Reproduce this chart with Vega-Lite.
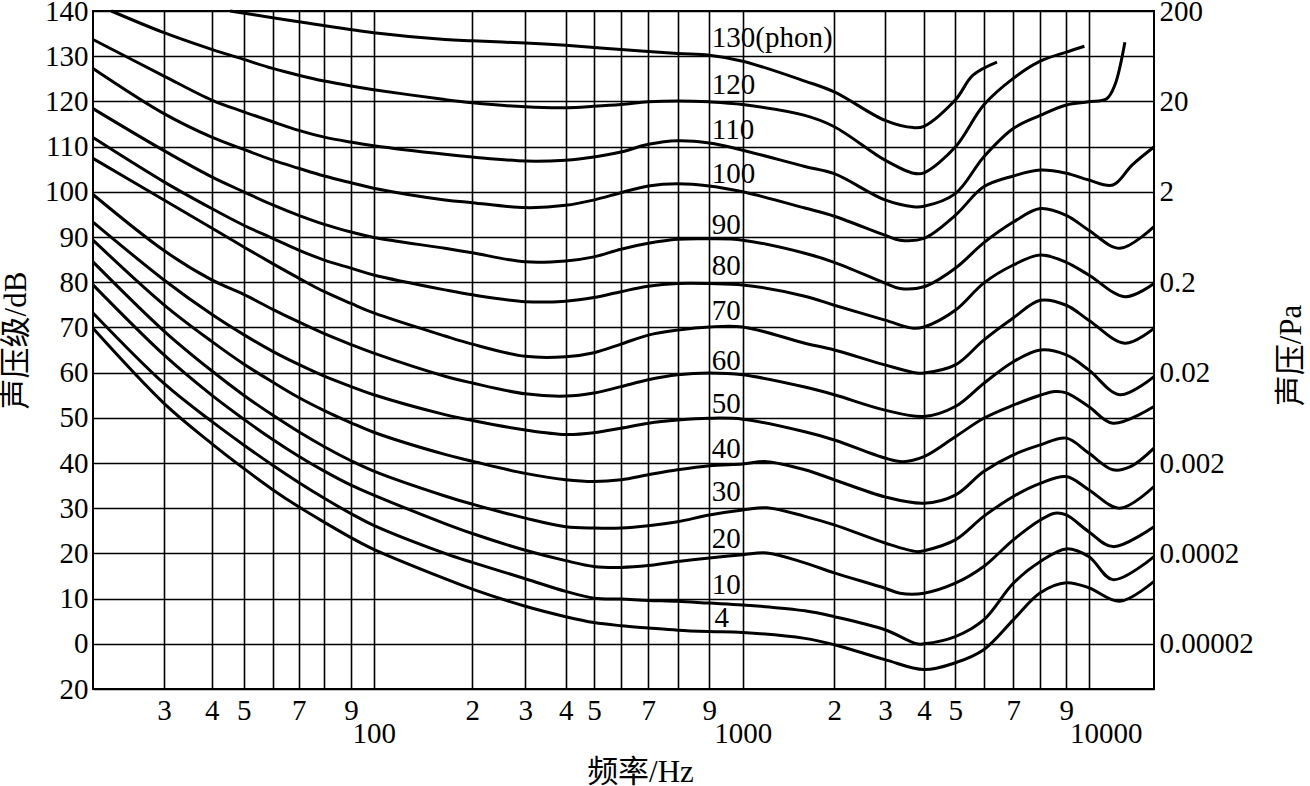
{
  "$schema": "https://vega.github.io/schema/vega-lite/v6.json",
  "width": 1061,
  "height": 678,
  "autosize": "none",
  "padding": {"left": 93, "top": 11, "right": 156, "bottom": 97},
  "background": "white",
  "config": {
    "view": {"stroke": "#000", "strokeWidth": 2},
    "axis": {
      "labelFont": "Liberation Serif",
      "labelFontSize": 29,
      "labelColor": "#000",
      "titleFont": "'Liberation Serif', 'Noto Sans CJK SC'",
      "titleFontSize": 31,
      "titleFontWeight": "normal",
      "titleColor": "#000",
      "gridColor": "#000",
      "gridOpacity": 1,
      "gridWidth": 1.6,
      "domain": false,
      "ticks": false,
      "tickSize": 0
    }
  },
  "datasets": {
    "curves": [
      {"p":130,"f":45.5,"db":140},{"p":130,"f":60,"db":138.5},{"p":130,"f":70,"db":137.6},{"p":130,"f":100,"db":135.2},{"p":130,"f":165,"db":133.7},{"p":130,"f":200,"db":133.4},{"p":130,"f":300,"db":132.9},{"p":130,"f":400,"db":132.4},{"p":130,"f":600,"db":131.5},{"p":130,"f":800,"db":130.6},{"p":130,"f":900,"db":130.2},{"p":130,"f":1000,"db":128.9},{"p":130,"f":1600,"db":124.5},{"p":130,"f":2000,"db":122.1},{"p":130,"f":3000,"db":115.8},{"p":130,"f":3700,"db":114.2},{"p":130,"f":4000,"db":114.5},{"p":130,"f":5000,"db":120.3},{"p":130,"f":5600,"db":125.8},{"p":130,"f":6430,"db":128.7},
      {"p":120,"f":22.2,"db":140},{"p":120,"f":30,"db":135.2},{"p":120,"f":40,"db":131.5},{"p":120,"f":50,"db":129.3},{"p":120,"f":60,"db":127.3},{"p":120,"f":70,"db":125.8},{"p":120,"f":80,"db":124.5},{"p":120,"f":90,"db":123.4},{"p":120,"f":100,"db":122.6},{"p":120,"f":165,"db":120.4},{"p":120,"f":200,"db":119.7},{"p":120,"f":300,"db":118.8},{"p":120,"f":400,"db":118.6},{"p":120,"f":500,"db":118.9},{"p":120,"f":600,"db":119.3},{"p":120,"f":700,"db":119.9},{"p":120,"f":800,"db":120.1},{"p":120,"f":900,"db":119.9},{"p":120,"f":1000,"db":119.3},{"p":120,"f":1600,"db":116.9},{"p":120,"f":2000,"db":114.4},{"p":120,"f":3000,"db":107.0},{"p":120,"f":3700,"db":104.1},{"p":120,"f":4000,"db":104.2},{"p":120,"f":5000,"db":109.9},{"p":120,"f":6000,"db":119.2},{"p":120,"f":7000,"db":125.1},{"p":120,"f":8000,"db":128.9},{"p":120,"f":9000,"db":130.9},{"p":120,"f":9800,"db":132.2},
      {"p":110,"f":20,"db":133.7},{"p":110,"f":30,"db":125.6},{"p":110,"f":40,"db":120.3},{"p":110,"f":50,"db":117.7},{"p":110,"f":60,"db":115.5},{"p":110,"f":70,"db":113.6},{"p":110,"f":80,"db":112.1},{"p":110,"f":90,"db":111.0},{"p":110,"f":100,"db":110.2},{"p":110,"f":165,"db":108.3},{"p":110,"f":200,"db":107.7},{"p":110,"f":300,"db":106.8},{"p":110,"f":400,"db":107.0},{"p":110,"f":500,"db":107.7},{"p":110,"f":600,"db":108.8},{"p":110,"f":700,"db":110.5},{"p":110,"f":800,"db":111.3},{"p":110,"f":900,"db":110.8},{"p":110,"f":1000,"db":109.2},{"p":110,"f":1600,"db":105.6},{"p":110,"f":2000,"db":104.0},{"p":110,"f":3000,"db":98.2},{"p":110,"f":3700,"db":96.7},{"p":110,"f":4000,"db":96.8},{"p":110,"f":5000,"db":99.6},{"p":110,"f":6000,"db":107.7},{"p":110,"f":7000,"db":114.0},{"p":110,"f":8000,"db":116.9},{"p":110,"f":9000,"db":119.2},{"p":110,"f":10000,"db":119.9},{"p":110,"f":10970,"db":120.6},{"p":110,"f":11440,"db":123.6},{"p":110,"f":12050,"db":133.1},
      {"p":100,"f":20,"db":127.3},{"p":100,"f":30,"db":117.3},{"p":100,"f":40,"db":112.1},{"p":100,"f":50,"db":109.4},{"p":100,"f":60,"db":107.0},{"p":100,"f":70,"db":105.2},{"p":100,"f":80,"db":103.5},{"p":100,"f":90,"db":102.0},{"p":100,"f":100,"db":100.8},{"p":100,"f":165,"db":98.2},{"p":100,"f":200,"db":97.6},{"p":100,"f":300,"db":96.5},{"p":100,"f":400,"db":97.0},{"p":100,"f":500,"db":98.2},{"p":100,"f":600,"db":99.8},{"p":100,"f":700,"db":101.3},{"p":100,"f":800,"db":101.8},{"p":100,"f":900,"db":101.3},{"p":100,"f":1000,"db":100.0},{"p":100,"f":1600,"db":96.4},{"p":100,"f":2000,"db":94.6},{"p":100,"f":3000,"db":90.4},{"p":100,"f":3350,"db":89.3},{"p":100,"f":4000,"db":89.7},{"p":100,"f":5000,"db":94.8},{"p":100,"f":6000,"db":101.1},{"p":100,"f":7000,"db":103.5},{"p":100,"f":8000,"db":104.8},{"p":100,"f":9000,"db":104.1},{"p":100,"f":10000,"db":102.6},{"p":100,"f":11330,"db":101.5},{"p":100,"f":12500,"db":105.9},{"p":100,"f":14000,"db":109.9},
      {"p":90,"f":20,"db":118.4},{"p":90,"f":30,"db":109.1},{"p":90,"f":40,"db":103.3},{"p":90,"f":50,"db":100.0},{"p":90,"f":60,"db":97.1},{"p":90,"f":70,"db":94.8},{"p":90,"f":80,"db":92.8},{"p":90,"f":90,"db":91.1},{"p":90,"f":100,"db":89.9},{"p":90,"f":165,"db":87.5},{"p":90,"f":200,"db":86.5},{"p":90,"f":300,"db":84.5},{"p":90,"f":400,"db":84.7},{"p":90,"f":500,"db":85.6},{"p":90,"f":600,"db":87.3},{"p":90,"f":700,"db":88.6},{"p":90,"f":800,"db":89.5},{"p":90,"f":900,"db":89.6},{"p":90,"f":1000,"db":89.3},{"p":90,"f":1600,"db":86.4},{"p":90,"f":2000,"db":84.4},{"p":90,"f":3000,"db":79.8},{"p":90,"f":3350,"db":78.6},{"p":90,"f":4000,"db":79.0},{"p":90,"f":5000,"db":83.1},{"p":90,"f":6000,"db":88.7},{"p":90,"f":7000,"db":93.3},{"p":90,"f":8000,"db":96.3},{"p":90,"f":9000,"db":94.8},{"p":90,"f":10000,"db":91.5},{"p":90,"f":11740,"db":87.5},{"p":90,"f":14000,"db":92.3},
      {"p":80,"f":20,"db":112.0},{"p":80,"f":30,"db":102.2},{"p":80,"f":40,"db":96.3},{"p":80,"f":50,"db":92.6},{"p":80,"f":60,"db":89.7},{"p":80,"f":70,"db":87.1},{"p":80,"f":80,"db":84.9},{"p":80,"f":90,"db":83.1},{"p":80,"f":100,"db":81.6},{"p":80,"f":165,"db":78.3},{"p":80,"f":200,"db":77.2},{"p":80,"f":300,"db":75.7},{"p":80,"f":400,"db":75.8},{"p":80,"f":500,"db":76.6},{"p":80,"f":600,"db":77.9},{"p":80,"f":700,"db":79.1},{"p":80,"f":800,"db":79.7},{"p":80,"f":900,"db":79.7},{"p":80,"f":1000,"db":79.4},{"p":80,"f":1600,"db":76.9},{"p":80,"f":2000,"db":74.9},{"p":80,"f":3000,"db":71.6},{"p":80,"f":3700,"db":69.8},{"p":80,"f":4000,"db":70.1},{"p":80,"f":5000,"db":73.8},{"p":80,"f":6000,"db":79.8},{"p":80,"f":7000,"db":83.8},{"p":80,"f":8000,"db":86.0},{"p":80,"f":9000,"db":84.4},{"p":80,"f":10000,"db":81.6},{"p":80,"f":12050,"db":76.8},{"p":80,"f":14000,"db":79.7},
      {"p":70,"f":20,"db":107.4},{"p":70,"f":30,"db":98.2},{"p":70,"f":40,"db":92.0},{"p":70,"f":50,"db":87.8},{"p":70,"f":60,"db":84.1},{"p":70,"f":70,"db":80.9},{"p":70,"f":80,"db":77.9},{"p":70,"f":90,"db":75.3},{"p":70,"f":100,"db":73.2},{"p":70,"f":165,"db":68.1},{"p":70,"f":200,"db":66.3},{"p":70,"f":300,"db":63.6},{"p":70,"f":400,"db":63.5},{"p":70,"f":500,"db":64.4},{"p":70,"f":600,"db":66.3},{"p":70,"f":700,"db":68.3},{"p":70,"f":800,"db":69.4},{"p":70,"f":900,"db":70.1},{"p":70,"f":1000,"db":70.1},{"p":70,"f":1600,"db":66.5},{"p":70,"f":2000,"db":65.0},{"p":70,"f":3000,"db":61.7},{"p":70,"f":3790,"db":59.9},{"p":70,"f":4000,"db":59.9},{"p":70,"f":5000,"db":61.7},{"p":70,"f":6000,"db":67.2},{"p":70,"f":7000,"db":72.1},{"p":70,"f":8000,"db":76.0},{"p":70,"f":9000,"db":74.9},{"p":70,"f":10000,"db":71.6},{"p":70,"f":12050,"db":66.5},{"p":70,"f":14000,"db":69.8},
      {"p":60,"f":20,"db":99.4},{"p":60,"f":30,"db":87.0},{"p":60,"f":40,"db":80.5},{"p":60,"f":50,"db":77.3},{"p":60,"f":60,"db":74.0},{"p":60,"f":70,"db":71.2},{"p":60,"f":80,"db":68.6},{"p":60,"f":90,"db":66.2},{"p":60,"f":100,"db":64.3},{"p":60,"f":165,"db":59.2},{"p":60,"f":200,"db":57.7},{"p":60,"f":300,"db":55.3},{"p":60,"f":400,"db":54.8},{"p":60,"f":500,"db":55.5},{"p":60,"f":600,"db":56.9},{"p":60,"f":700,"db":58.4},{"p":60,"f":800,"db":59.5},{"p":60,"f":900,"db":59.9},{"p":60,"f":1000,"db":59.5},{"p":60,"f":1600,"db":56.8},{"p":60,"f":2000,"db":55.1},{"p":60,"f":3000,"db":51.7},{"p":60,"f":4000,"db":50.3},{"p":60,"f":5000,"db":52.5},{"p":60,"f":6000,"db":57.6},{"p":60,"f":7000,"db":62.4},{"p":60,"f":8000,"db":65.0},{"p":60,"f":9000,"db":63.9},{"p":60,"f":10000,"db":60.6},{"p":60,"f":11740,"db":55.1},{"p":60,"f":14000,"db":59.1},
      {"p":50,"f":20,"db":93.3},{"p":50,"f":30,"db":80.5},{"p":50,"f":40,"db":72.9},{"p":50,"f":50,"db":68.4},{"p":50,"f":60,"db":64.7},{"p":50,"f":70,"db":61.8},{"p":50,"f":80,"db":59.2},{"p":50,"f":90,"db":56.9},{"p":50,"f":100,"db":55.1},{"p":50,"f":165,"db":50.7},{"p":50,"f":200,"db":49.4},{"p":50,"f":300,"db":47.3},{"p":50,"f":400,"db":46.3},{"p":50,"f":500,"db":46.7},{"p":50,"f":600,"db":47.7},{"p":50,"f":700,"db":48.8},{"p":50,"f":800,"db":49.5},{"p":50,"f":900,"db":49.9},{"p":50,"f":1000,"db":49.7},{"p":50,"f":1600,"db":46.9},{"p":50,"f":2000,"db":45.1},{"p":50,"f":3000,"db":41.1},{"p":50,"f":3420,"db":40.3},{"p":50,"f":4000,"db":41.4},{"p":50,"f":5000,"db":45.8},{"p":50,"f":6000,"db":49.9},{"p":50,"f":7000,"db":52.8},{"p":50,"f":8000,"db":55.0},{"p":50,"f":8550,"db":55.8},{"p":50,"f":9000,"db":55.5},{"p":50,"f":10000,"db":52.5},{"p":50,"f":11330,"db":48.8},{"p":50,"f":14000,"db":52.5},
      {"p":40,"f":20,"db":89.3},{"p":40,"f":30,"db":75.0},{"p":40,"f":40,"db":66.9},{"p":40,"f":50,"db":61.9},{"p":40,"f":60,"db":57.9},{"p":40,"f":70,"db":54.5},{"p":40,"f":80,"db":51.6},{"p":40,"f":90,"db":48.9},{"p":40,"f":100,"db":46.8},{"p":40,"f":165,"db":41.9},{"p":40,"f":200,"db":40.4},{"p":40,"f":300,"db":37.7},{"p":40,"f":400,"db":36.3},{"p":40,"f":500,"db":35.9},{"p":40,"f":600,"db":36.3},{"p":40,"f":700,"db":37.4},{"p":40,"f":800,"db":38.5},{"p":40,"f":900,"db":39.4},{"p":40,"f":1000,"db":39.8},{"p":40,"f":1200,"db":40.3},{"p":40,"f":1600,"db":38.5},{"p":40,"f":2000,"db":36.3},{"p":40,"f":3000,"db":32.5},{"p":40,"f":4000,"db":31.1},{"p":40,"f":5000,"db":32.9},{"p":40,"f":6000,"db":38.1},{"p":40,"f":7000,"db":41.8},{"p":40,"f":8000,"db":44.0},{"p":40,"f":9000,"db":45.5},{"p":40,"f":10000,"db":42.2},{"p":40,"f":11330,"db":38.5},{"p":40,"f":12400,"db":39.2},{"p":40,"f":14000,"db":43.3},
      {"p":30,"f":20,"db":84.5},{"p":30,"f":30,"db":69.2},{"p":30,"f":40,"db":60.4},{"p":30,"f":50,"db":55.0},{"p":30,"f":60,"db":50.6},{"p":30,"f":70,"db":46.9},{"p":30,"f":80,"db":43.6},{"p":30,"f":90,"db":40.5},{"p":30,"f":100,"db":38.2},{"p":30,"f":165,"db":32.7},{"p":30,"f":200,"db":30.9},{"p":30,"f":300,"db":27.8},{"p":30,"f":400,"db":25.9},{"p":30,"f":500,"db":25.6},{"p":30,"f":600,"db":25.6},{"p":30,"f":700,"db":26.1},{"p":30,"f":800,"db":27.0},{"p":30,"f":900,"db":28.5},{"p":30,"f":1000,"db":29.6},{"p":30,"f":1200,"db":30.1},{"p":30,"f":1600,"db":28.2},{"p":30,"f":2000,"db":26.3},{"p":30,"f":3000,"db":22.3},{"p":30,"f":3790,"db":20.4},{"p":30,"f":4000,"db":20.6},{"p":30,"f":5000,"db":23.0},{"p":30,"f":6000,"db":28.2},{"p":30,"f":7000,"db":32.6},{"p":30,"f":8000,"db":35.5},{"p":30,"f":9000,"db":37.0},{"p":30,"f":10000,"db":34.1},{"p":30,"f":11740,"db":30.0},{"p":30,"f":14000,"db":34.8},
      {"p":20,"f":20,"db":79.4},{"p":20,"f":30,"db":63.9},{"p":20,"f":40,"db":55.0},{"p":20,"f":50,"db":49.7},{"p":20,"f":60,"db":45.2},{"p":20,"f":70,"db":41.5},{"p":20,"f":80,"db":38.2},{"p":20,"f":90,"db":35.1},{"p":20,"f":100,"db":32.9},{"p":20,"f":165,"db":26.6},{"p":20,"f":200,"db":24.4},{"p":20,"f":300,"db":20.7},{"p":20,"f":400,"db":18.4},{"p":20,"f":500,"db":17.1},{"p":20,"f":600,"db":16.9},{"p":20,"f":700,"db":17.3},{"p":20,"f":800,"db":18.2},{"p":20,"f":900,"db":19.0},{"p":20,"f":1000,"db":19.7},{"p":20,"f":1200,"db":20.1},{"p":20,"f":1600,"db":17.9},{"p":20,"f":2000,"db":15.7},{"p":20,"f":3000,"db":12.3},{"p":20,"f":3350,"db":11.2},{"p":20,"f":4000,"db":11.2},{"p":20,"f":5000,"db":13.4},{"p":20,"f":6000,"db":17.1},{"p":20,"f":7000,"db":23.0},{"p":20,"f":8000,"db":27.4},{"p":20,"f":8550,"db":28.9},{"p":20,"f":9000,"db":28.5},{"p":20,"f":10000,"db":24.8},{"p":20,"f":11330,"db":21.5},{"p":20,"f":14000,"db":25.9},
      {"p":10,"f":20,"db":73.2},{"p":10,"f":30,"db":57.6},{"p":10,"f":40,"db":49.2},{"p":10,"f":50,"db":44.0},{"p":10,"f":60,"db":39.5},{"p":10,"f":70,"db":35.7},{"p":10,"f":80,"db":32.2},{"p":10,"f":90,"db":28.8},{"p":10,"f":100,"db":26.2},{"p":10,"f":165,"db":20.0},{"p":10,"f":200,"db":18.0},{"p":10,"f":300,"db":14.4},{"p":10,"f":400,"db":11.6},{"p":10,"f":500,"db":10.1},{"p":10,"f":600,"db":9.9},{"p":10,"f":700,"db":9.6},{"p":10,"f":800,"db":9.4},{"p":10,"f":900,"db":9.0},{"p":10,"f":1000,"db":8.6},{"p":10,"f":1600,"db":7.3},{"p":10,"f":2000,"db":6.0},{"p":10,"f":3000,"db":3.1},{"p":10,"f":3790,"db":0.0},{"p":10,"f":4000,"db":0.0},{"p":10,"f":5000,"db":1.6},{"p":10,"f":6000,"db":5.3},{"p":10,"f":7000,"db":13.4},{"p":10,"f":8000,"db":18.2},{"p":10,"f":9000,"db":21.0},{"p":10,"f":10000,"db":19.3},{"p":10,"f":11330,"db":14.2},{"p":10,"f":14000,"db":19.3},
      {"p":4,"f":20,"db":69.8},{"p":4,"f":30,"db":53.2},{"p":4,"f":40,"db":44.3},{"p":4,"f":50,"db":38.8},{"p":4,"f":60,"db":34.1},{"p":4,"f":70,"db":30.3},{"p":4,"f":80,"db":26.9},{"p":4,"f":90,"db":23.5},{"p":4,"f":100,"db":20.9},{"p":4,"f":165,"db":14.4},{"p":4,"f":200,"db":12.1},{"p":4,"f":300,"db":8.3},{"p":4,"f":400,"db":6.0},{"p":4,"f":500,"db":4.7},{"p":4,"f":600,"db":4.0},{"p":4,"f":700,"db":3.5},{"p":4,"f":800,"db":3.0},{"p":4,"f":900,"db":2.7},{"p":4,"f":1000,"db":2.5},{"p":4,"f":1600,"db":1.2},{"p":4,"f":2000,"db":-0.2},{"p":4,"f":3000,"db":-3.5},{"p":4,"f":4000,"db":-5.7},{"p":4,"f":5000,"db":-4.2},{"p":4,"f":6000,"db":-1.3},{"p":4,"f":7000,"db":5.3},{"p":4,"f":8000,"db":11.3},{"p":4,"f":9000,"db":13.5},{"p":4,"f":10000,"db":12.4},{"p":4,"f":11740,"db":9.4},{"p":4,"f":14000,"db":13.8}
    ],
    "labels": [
      {"f":907,"db":134.0,"t":"130(phon)"},{"f":907,"db":123.7,"t":"120"},{"f":907,"db":113.6,"t":"110"},{"f":907,"db":103.9,"t":"100"},{"f":907,"db":92.6,"t":"90"},{"f":907,"db":83.6,"t":"80"},{"f":907,"db":73.6,"t":"70"},{"f":907,"db":62.5,"t":"60"},{"f":907,"db":53.1,"t":"50"},{"f":907,"db":43.1,"t":"40"},{"f":907,"db":33.5,"t":"30"},{"f":907,"db":23.2,"t":"20"},{"f":907,"db":13.0,"t":"10"},{"f":915,"db":5.7,"t":"4"}
    ]
  },
  "layer": [
    {
      "data": {"name": "curves"},
      "mark": {"type": "line", "color": "#000", "strokeWidth": 3, "interpolate": "catmull-rom"},
      "encoding": {
        "x": {
          "field": "f", "type": "quantitative",
          "scale": {
            "type": "log", "nice": false, "zero": false,
            "domain": [20,30,40,50,60,70,80,90,100,200,300,400,500,600,700,800,900,1000,2000,3000,4000,5000,6000,7000,8000,9000,10000,14000],
            "range": [0,71,118.7,150.7,179.7,205.7,231.3,258,280.7,379.3,432.3,472.7,501,528,555.3,584.7,616.3,649.7,741.3,792,831,862.3,890.7,920.3,947.3,973.3,995.7,1061]
          },
          "axis": {
            "values": [30,40,50,60,70,80,90,100,200,300,400,500,600,700,800,900,1000,2000,3000,4000,5000,6000,7000,8000,9000,10000],
            "labelExpr": "datum.value == 100 || datum.value == 1000 || datum.value == 10000 ? toString(datum.value) : (indexof([60, 80, 600, 800, 6000, 8000], datum.value) >= 0 ? '' : substring(toString(datum.value), 0, 1))",
            "labelPadding": {"condition": {"test": "datum.value == 100 || datum.value == 1000 || datum.value == 10000", "value": 30}, "value": 7},
            "labelOffset": {"condition": {"test": "datum.value == 10000", "value": 17}, "value": 0},
            "labelOverlap": false,
            "labelFlush": false,
            "labelBound": false,
            "grid": true,
            "title": "频率/Hz",
            "titleX": 547,
            "titleY": 83,
            "titleBaseline": "middle",
            "titleAlign": "center"
          }
        },
        "y": {
          "field": "db", "type": "quantitative",
          "scale": {"domain": [-10, 140], "nice": false, "zero": false},
          "axis": {
            "orient": "left",
            "values": [-10,0,10,20,30,40,50,60,70,80,90,100,110,120,130,140],
            "labelExpr": "datum.value == -10 ? '20' : toString(datum.value)",
            "labelPadding": 5,
            "labelOverlap": false,
            "labelFlush": false,
            "grid": true,
            "title": "声压级/dB",
            "titleX": -77,
            "titleY": 329,
            "titleAngle": -90,
            "titleBaseline": "middle",
            "titleAlign": "center"
          }
        },
        "detail": {"field": "p", "type": "nominal"}
      }
    },
    {
      "data": {"name": "labels"},
      "mark": {"type": "text", "align": "left", "baseline": "middle", "font": "Liberation Serif", "fontSize": 29, "color": "#000"},
      "encoding": {
        "x": {"field": "f", "type": "quantitative"},
        "y": {
          "field": "db", "type": "quantitative",
          "axis": {
            "orient": "right",
            "values": [0,20,40,60,80,100,120,140],
            "labelExpr": "datum.value == 0 ? '0.00002' : datum.value == 20 ? '0.0002' : datum.value == 40 ? '0.002' : datum.value == 60 ? '0.02' : datum.value == 80 ? '0.2' : datum.value == 100 ? '2' : datum.value == 120 ? '20' : '200'",
            "labelPadding": 5,
            "labelOverlap": false,
            "labelFlush": false,
            "grid": false,
            "title": "声压/Pa",
            "titleX": 137,
            "titleY": 344,
            "titleAngle": -90,
            "titleBaseline": "middle",
            "titleAlign": "center"
          }
        },
        "text": {"field": "t", "type": "nominal"}
      }
    }
  ],
  "resolve": {"scale": {"x": "shared", "y": "shared"}, "axis": {"y": "independent"}}
}
